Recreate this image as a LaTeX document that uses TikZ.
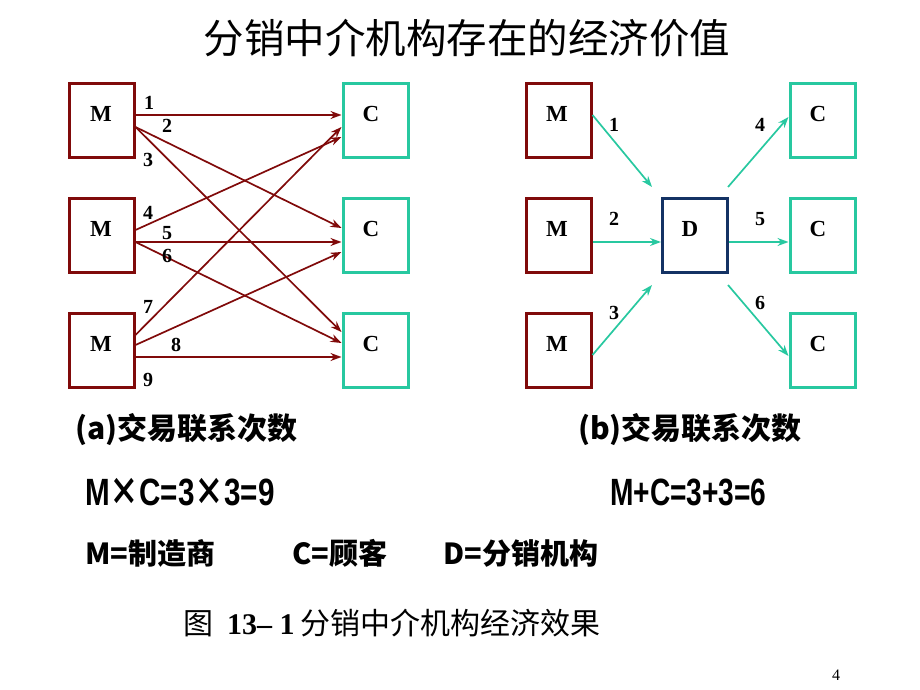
\documentclass[tikz,border=0pt]{standalone}
\usepackage{fontspec}
\setmainfont{Liberation Serif}
\newfontfamily\cjk{Noto Sans CJK SC}
\newfontfamily\lsans{Liberation Sans}
\usetikzlibrary{arrows.meta}
\definecolor{mred}{RGB}{128,10,10}
\definecolor{cgreen}{RGB}{40,200,160}
\definecolor{dblue}{RGB}{20,50,100}
\tikzset{
  box/.style={draw,line width=3pt,minimum width=65pt,minimum height=74pt,inner sep=0pt},
  mbox/.style={box,draw=mred},
  cbox/.style={box,draw=cgreen},
  dbox/.style={box,draw=dblue},
  blbl/.style={font=\fontsize{23}{23}\selectfont\bfseries,inner sep=0pt},
  num/.style={font=\fontsize{20}{20}\selectfont\bfseries,inner sep=0pt},
  rline/.style={draw=mred,line width=1.7pt,-{Stealth[length=11pt,width=8pt]}},
  gline/.style={draw=cgreen,line width=1.7pt,-{Stealth[length=11pt,width=8pt]}},
  txt/.style={inner sep=0pt,anchor=west},
}
\begin{document}
\begin{tikzpicture}[x=1pt,y=-1pt]
\useasboundingbox (0,0) rectangle (920,690);
% title
\node[inner sep=0pt] (title) at (467,38) {\cjk\fontsize{40.5}{40.5}\selectfont 分销中介机构存在的经济价值};
% left panel boxes
\node[mbox] (lm1) at (101.5,120.5) {};
\node[mbox] (lm2) at (101.5,235.5) {};
\node[mbox] (lm3) at (101.5,350.5) {};
\node[cbox] (lc1) at (375.5,120.5) {};
\node[cbox] (lc2) at (375.5,235.5) {};
\node[cbox] (lc3) at (375.5,350.5) {};
\node[blbl] (lm1t) at (101,114) {M};
\node[blbl] (lm2t) at (101,229) {M};
\node[blbl] (lm3t) at (101,344) {M};
\node[blbl] (lc1t) at (371,114) {C};
\node[blbl] (lc2t) at (371,229) {C};
\node[blbl] (lc3t) at (371,344) {C};
% left connectors
\draw[rline] ([yshift=5.5pt]lm1.east) -- ([yshift=5.5pt]lc1.west);
\draw[rline] ([yshift=-6.5pt]lm1.east) -- ([yshift=7.5pt]lc2.west);
\draw[rline] ([yshift=-6.5pt]lm1.east) -- ([yshift=18.5pt]lc3.west);
\draw[rline] ([yshift=5.5pt]lm2.east) -- ([yshift=-16.5pt]lc1.west);
\draw[rline] ([yshift=-6.5pt]lm2.east) -- ([yshift=-6.5pt]lc2.west);
\draw[rline] ([yshift=-6.5pt]lm2.east) -- ([yshift=7.5pt]lc3.west);
\draw[rline] ([yshift=15.5pt]lm3.east) -- ([yshift=-6.5pt]lc1.west);
\draw[rline] ([yshift=5.5pt]lm3.east) -- ([yshift=-16.5pt]lc2.west);
\draw[rline] ([yshift=-6.5pt]lm3.east) -- ([yshift=-6.5pt]lc3.west);
\node[num] (n1) at (149,103) {1};
\node[num] (n2) at (167,126) {2};
\node[num] (n3) at (148,160) {3};
\node[num] (n4) at (148,213) {4};
\node[num] (n5) at (167,233) {5};
\node[num] (n6) at (167,256) {6};
\node[num] (n7) at (148,307) {7};
\node[num] (n8) at (176,345) {8};
\node[num] (n9) at (148,380) {9};
% right panel boxes
\node[mbox] (rm1) at (558.5,120.5) {};
\node[mbox] (rm2) at (558.5,235.5) {};
\node[mbox] (rm3) at (558.5,350.5) {};
\node[dbox] (d) at (695,235.5) {};
\node[cbox] (rc1) at (822.5,120.5) {};
\node[cbox] (rc2) at (822.5,235.5) {};
\node[cbox] (rc3) at (822.5,350.5) {};
\node[blbl] (rm1t) at (557,114) {M};
\node[blbl] (rm2t) at (557,229) {M};
\node[blbl] (rm3t) at (557,344) {M};
\node[blbl] (dt) at (690,229) {D};
\node[blbl] (rc1t) at (818,114) {C};
\node[blbl] (rc2t) at (818,229) {C};
\node[blbl] (rc3t) at (818,344) {C};
% right connectors
\draw[gline] ([yshift=5.5pt]rm1.east) -- ([shift={(-9pt,10pt)}]d.north west);
\draw[gline] ([yshift=-6.5pt]rm2.east) -- ([yshift=-6.5pt]d.west);
\draw[gline] ([yshift=-4.5pt]rm3.east) -- ([shift={(-9pt,-11pt)}]d.south west);
\draw[gline] ([shift={(-1pt,10pt)}]d.north east) -- ([yshift=3.5pt]rc1.west);
\draw[gline] ([yshift=-6.5pt]d.east) -- ([yshift=-6.5pt]rc2.west);
\draw[gline] ([shift={(-1pt,-11pt)}]d.south east) -- ([yshift=-5.5pt]rc3.west);
\node[num] (r1) at (614,125) {1};
\node[num] (r2) at (614,219) {2};
\node[num] (r3) at (614,313) {3};
\node[num] (r4) at (760,125) {4};
\node[num] (r5) at (760,219) {5};
\node[num] (r6) at (760,303) {6};
% bottom texts
\node[txt] (capa) at (75,430) {\cjk\bfseries\fontsize{30}{30}\selectfont (a)交易联系次数};
\node[txt] (capb) at (578,430) {\cjk\bfseries\fontsize{30}{30}\selectfont (b)交易联系次数};
\node[txt] (fa) at (85,492) {\scalebox{0.78}[1]{\lsans\bfseries\fontsize{38}{38}\selectfont M{\cjk ×}C=3{\cjk ×}3=9}};
\node[txt] (fb) at (610,492) {\scalebox{0.74}[1]{\lsans\bfseries\fontsize{38}{38}\selectfont M+C=3+3=6}};
\node[txt] (lgm) at (85,553) {\cjk\bfseries\fontsize{29}{29}\selectfont M=制造商};
\node[txt] (lgc) at (292,553) {\cjk\bfseries\fontsize{29}{29}\selectfont C=顾客};
\node[txt] (lgd) at (443,553) {\cjk\bfseries\fontsize{29}{29}\selectfont D=分销机构};
\node[txt] (fig) at (183,623) {\cjk\fontsize{30}{30}\selectfont 图\hspace{14pt}{\rmfamily\bfseries 13– 1}\hspace{6pt}分销中介机构经济效果};
\node[inner sep=0pt] (pg) at (836,675) {\fontsize{16}{16}\selectfont 4};
\end{tikzpicture}
\end{document}
